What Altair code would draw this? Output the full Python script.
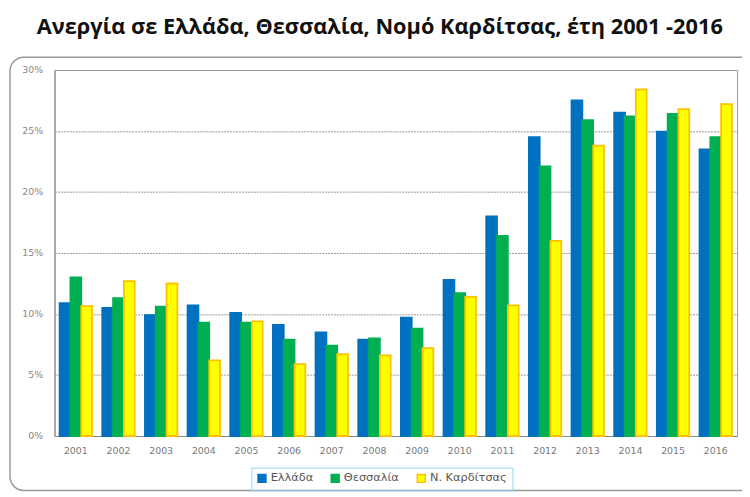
import altair as alt
import pandas as pd

years = [str(y) for y in range(2001, 2017)]
series = ["Ελλάδα", "Θεσσαλία", "Ν. Καρδίτσας"]
ellada = [10.9, 10.5, 9.9, 10.7, 10.1, 9.1, 8.5, 7.9, 9.7, 12.8, 18.0, 24.5, 27.5, 26.5, 24.95, 23.5]
thessalia = [13.0, 11.3, 10.6, 9.3, 9.3, 7.9, 7.4, 8.0, 8.8, 11.7, 16.4, 22.1, 25.9, 26.2, 26.4, 24.5]
karditsa = [10.65, 12.7, 12.5, 6.2, 9.4, 5.9, 6.7, 6.6, 7.2, 11.4, 10.7, 16.0, 23.8, 28.4, 26.8, 27.2]

rows = []
for name, vals in zip(series, [ellada, thessalia, karditsa]):
    for y, v in zip(years, vals):
        rows.append({"year": y, "series": name, "value": v / 100})
df = pd.DataFrame(rows)

fills = ["#0070C0", "#00B050", "#FFFF00"]
strokes = ["#0070C0", "#00B050", "#FFC000"]

bars = alt.Chart(df).mark_bar(strokeWidth=1.8).encode(
    x=alt.X("year:N", sort=years, title=None,
            scale=alt.Scale(paddingInner=0.24, paddingOuter=0.12),
            axis=alt.Axis(labelAngle=0, ticks=False, labelPadding=10, labelColor="#777",
                          labelFontSize=9.5, domainColor="#888", labelFont="DejaVu Sans")),
    xOffset=alt.XOffset("series:N", sort=series, scale=alt.Scale(paddingInner=0.0)),
    y=alt.Y("value:Q", title=None,
            scale=alt.Scale(domain=[0, 0.30]),
            axis=alt.Axis(format=".0%", values=[0, 0.05, 0.10, 0.15, 0.20, 0.25, 0.30],
                          ticks=False, labelPadding=12, labelColor="#888", labelFontSize=9.5,
                          labelFont="DejaVu Sans", domainColor="#888",
                          gridColor="#999", gridDash=[2, 1], gridWidth=1)),
    color=alt.Color("series:N", sort=series,
                    scale=alt.Scale(domain=series, range=fills),
                    legend=alt.Legend(title=None, orient="none", direction="horizontal",
                                      legendX=199, legendY=402,
                                      strokeColor="#8fd8f5", padding=5,
                                      symbolType="square", symbolSize=64,
                                      labelFontSize=11.5, labelColor="#555",
                                      labelFont="DejaVu Sans", labelOffset=3,
                                      columnPadding=14, symbolStrokeWidth=1.5)),
    stroke=alt.Stroke("series:N", sort=series,
                      scale=alt.Scale(domain=series, range=strokes), legend=None),
)

frame_df = pd.DataFrame({"k": [1]})
frame = alt.Chart(frame_df).mark_rect(
    fill=None, stroke="#999", strokeWidth=1.5, cornerRadius=14
).encode(
    x=alt.value(-45), x2=alt.value(720), y=alt.value(-13), y2=alt.value(425)
)

chart = alt.layer(frame, bars).properties(
    width=690, height=370,
    padding={"left": 47, "top": 60, "right": 5, "bottom": 60},
    autosize=alt.AutoSizeParams(type="none"),
    title=alt.TitleParams(
        "Ανεργία σε Ελλάδα, Θεσσαλία, Νομό Καρδίτσας, έτη 2001 -2016",
        font="Open Sans", fontSize=22, fontWeight="bold", color="#111",
        anchor="start", frame="group", dx=-18, offset=18,
    ),
).configure_view(stroke="#999", strokeWidth=1)

chart.save("out.html", embed_options={"renderer": "svg", "actions": False})
